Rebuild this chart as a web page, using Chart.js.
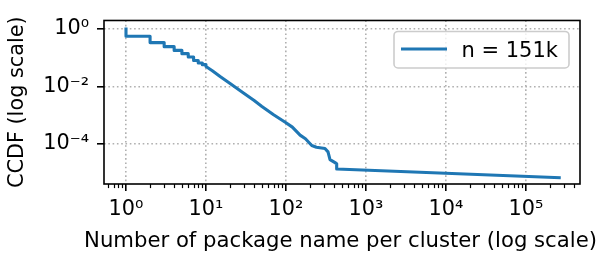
<!DOCTYPE html>
<html>
<head>
<meta charset="utf-8">
<script src="https://cdn.jsdelivr.net/npm/chart.js@4.4.1/dist/chart.umd.min.js"></script>
<style>
  html, body { margin: 0; padding: 0; background: #fff; }
</style>
</head>
<body>
<canvas id="chart" width="601" height="253"></canvas>
<script>
// cluster size (x) and CCDF (y)
const clusterSizes = [1, 1, 2, 2, 3, 3, 4, 4, 5, 5, 6, 6, 7, 7, 8, 8, 9, 9, 10, 10,
    12, 15, 20, 30, 40, 50, 70, 100, 120, 150, 175, 210, 240, 307, 335, 355, 410, 430, 430, 260000];
const ccdfValues = [1, 0.555, 0.555, 0.335, 0.335, 0.242, 0.242, 0.179, 0.179, 0.138,
    0.138, 0.105, 0.105, 0.080, 0.080, 0.065, 0.065, 0.057, 0.057, 0.049,
    0.035, 0.022, 0.0125, 0.0056, 0.0032, 0.002, 0.00102, 0.00054, 0.00038, 0.0002,
    0.00015, 0.000087, 0.000076, 0.000068, 0.000052, 0.000028, 0.000022, 0.00002, 0.0000132, 0.0000066];
const seriesLabel = 'n = 151k';

// tick positions and labels
const xTicks = [1, 10, 100, 1e3, 1e4, 1e5];
const xTickLabels = ['10⁰', '10¹', '10²', '10³', '10⁴', '10⁵'];
const yTicks = [1, 1e-2, 1e-4];
const yTickLabels = ['10⁰', '10⁻²', '10⁻⁴'];

const font = { family: '"DejaVu Sans", sans-serif', size: 20.8 };

// minor ticks on the x axis (2..9 in each decade)
const minorX = [];
for (let e = -1; e <= 5; e++) {
    for (let m = 2; m <= 9; m++) {
        const v = m * Math.pow(10, e);
        if (v > 0.531 && v < 473000) minorX.push(v);
    }
}

// frame round the plot plus the short minor ticks
const framePlugin = {
    id: 'frame',
    afterDatasetsDraw(chart) {
        const { ctx, chartArea: a, scales: { x } } = chart;
        ctx.save();
        ctx.strokeStyle = '#000';
        ctx.lineWidth = 1.2;
        minorX.forEach(v => {
            const px = Math.round(x.getPixelForValue(v)) + 0.5;
            ctx.beginPath();
            ctx.moveTo(px, a.bottom);
            ctx.lineTo(px, a.bottom + 4.1);
            ctx.stroke();
        });
        ctx.lineWidth = 1.6;
        ctx.strokeRect(a.left, a.top, a.right - a.left, a.bottom - a.top);
        ctx.restore();
    }
};

// x axis title: Chart.js would squeeze it to the axis width, so draw it here
const xTitlePlugin = {
    id: 'xTitle',
    afterDraw(chart) {
        const { ctx, chartArea: a } = chart;
        ctx.save();
        ctx.fillStyle = '#000';
        ctx.font = `21.2px ${font.family}`;
        ctx.textAlign = 'center';
        ctx.textBaseline = 'alphabetic';
        ctx.fillText(chart.options.scales.x.title.text, (a.left + a.right) / 2 - 1.5, 246.5);
        ctx.restore();
    }
};

// matplotlib-like legend box in the upper right corner
const legendPlugin = {
    id: 'legendBox',
    afterDraw(chart) {
        const { ctx, chartArea: a } = chart;
        const ds = chart.data.datasets[0];
        const w = 175, h = 36.5;
        const x0 = a.right - 11 - w, y0 = a.top + 11;
        ctx.save();
        ctx.beginPath();
        ctx.roundRect(x0, y0, w, h, 4);
        ctx.fillStyle = 'rgba(255,255,255,0.8)';
        ctx.fill();
        ctx.strokeStyle = '#cccccc';
        ctx.lineWidth = 1.6;
        ctx.stroke();
        ctx.beginPath();
        ctx.moveTo(x0 + 7, y0 + 17.5);
        ctx.lineTo(x0 + 53, y0 + 17.5);
        ctx.strokeStyle = ds.borderColor;
        ctx.lineWidth = ds.borderWidth;
        ctx.stroke();
        ctx.fillStyle = '#000';
        ctx.font = `21px ${font.family}`;
        ctx.textBaseline = 'alphabetic';
        ctx.fillText(ds.label, x0 + 67.5, y0 + 25.8);
        ctx.restore();
    }
};

new Chart(document.getElementById('chart').getContext('2d'), {
    type: 'scatter',
    data: {
        datasets: [{
            label: seriesLabel,
            data: clusterSizes.map((x, i) => ({ x: x, y: ccdfValues[i] })),
            showLine: true,
            borderColor: '#1f77b4',
            backgroundColor: '#1f77b4',
            borderWidth: 3.1,
            borderJoinStyle: 'round',
            borderCapStyle: 'square',
            pointRadius: 0,
            tension: 0,
            fill: false
        }]
    },
    options: {
        responsive: false,
        animation: false,
        devicePixelRatio: 1,
        layout: { padding: { top: 10.5, right: 21, left: 0, bottom: 0 } },
        plugins: {
            legend: { display: false },
            tooltip: { enabled: false }
        },
        scales: {
            x: {
                type: 'logarithmic',
                min: 0.531,
                max: 473000,
                afterBuildTicks: s => { s.ticks = xTicks.map(v => ({ value: v })); },
                afterFit: s => { s.height = 69; },
                grid: { color: '#b0b0b0', lineWidth: 1.6, tickLength: 7, tickColor: '#000', tickWidth: 1.6 },
                border: { display: false, dash: [1.6, 2.7] },
                ticks: {
                    font: font, color: '#000', padding: 6, maxRotation: 0, autoSkip: false,
                    callback: v => xTickLabels[xTicks.indexOf(v)] ?? ''
                },
                title: { display: false, text: 'Number of package name per cluster (log scale)' }
            },
            y: {
                type: 'logarithmic',
                min: 3.96e-6,
                max: 1.975,
                afterBuildTicks: s => { s.ticks = yTicks.map(v => ({ value: v })); },
                afterFit: s => { s.width = 104; },
                grid: { color: '#b0b0b0', lineWidth: 1.6, tickLength: 7, tickColor: '#000', tickWidth: 1.6 },
                border: { display: false, dash: [1.6, 2.7] },
                ticks: {
                    font: font, color: '#000', padding: 8, autoSkip: false,
                    callback: v => yTickLabels[yTicks.indexOf(v)] ?? ''
                },
                title: {
                    display: true, text: 'CCDF (log scale)',
                    font: font, color: '#000', padding: { top: 5.5, bottom: 0 }
                }
            }
        }
    },
    plugins: [framePlugin, xTitlePlugin, legendPlugin]
});
</script>
</body>
</html>
